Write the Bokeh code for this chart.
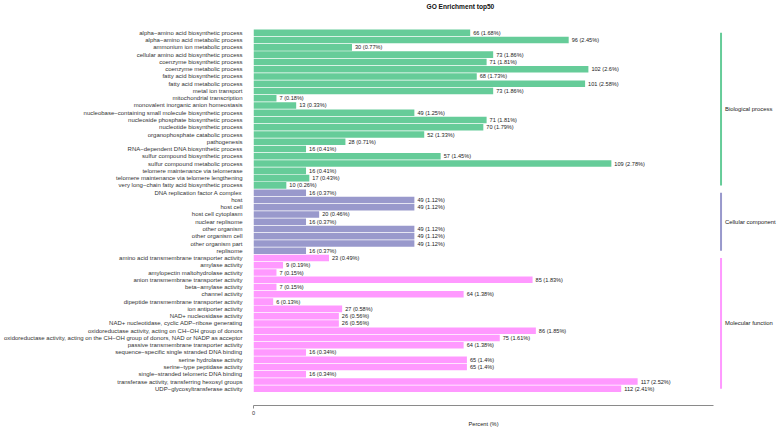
from bokeh.plotting import figure
from bokeh.models import Range1d, FixedTicker, ColumnDataSource, Title
from bokeh.core.properties import value
from bokeh.embed import file_html
from bokeh.resources import INLINE

terms = [
    "alpha−amino acid biosynthetic process",
    "alpha−amino acid metabolic process",
    "ammonium ion metabolic process",
    "cellular amino acid biosynthetic process",
    "coenzyme biosynthetic process",
    "coenzyme metabolic process",
    "fatty acid biosynthetic process",
    "fatty acid metabolic process",
    "metal ion transport",
    "mitochondrial transcription",
    "monovalent inorganic anion homeostasis",
    "nucleobase−containing small molecule biosynthetic process",
    "nucleoside phosphate biosynthetic process",
    "nucleotide biosynthetic process",
    "organophosphate catabolic process",
    "pathogenesis",
    "RNA−dependent DNA biosynthetic process",
    "sulfur compound biosynthetic process",
    "sulfur compound metabolic process",
    "telomere maintenance via telomerase",
    "telomere maintenance via telomere lengthening",
    "very long−chain fatty acid biosynthetic process",
    "DNA replication factor A complex",
    "host",
    "host cell",
    "host cell cytoplasm",
    "nuclear replisome",
    "other organism",
    "other organism cell",
    "other organism part",
    "replisome",
    "amino acid transmembrane transporter activity",
    "amylase activity",
    "amylopectin maltohydrolase activity",
    "anion transmembrane transporter activity",
    "beta−amylase activity",
    "channel activity",
    "dipeptide transmembrane transporter activity",
    "ion antiporter activity",
    "NAD+ nucleosidase activity",
    "NAD+ nucleotidase, cyclic ADP−ribose generating",
    "oxidoreductase activity, acting on CH−OH group of donors",
    "oxidoreductase activity, acting on the CH−OH group of donors, NAD or NADP as acceptor",
    "passive transmembrane transporter activity",
    "sequence−specific single stranded DNA binding",
    "serine hydrolase activity",
    "serine−type peptidase activity",
    "single−stranded telomeric DNA binding",
    "transferase activity, transferring hexosyl groups",
    "UDP−glycosyltransferase activity",
]

counts = [66, 96, 30, 73, 71, 102, 68, 101, 73, 7, 13, 49, 71, 70, 52, 28, 16, 57, 109, 16, 17, 10,
          16, 49, 49, 20, 16, 49, 49, 49, 16,
          23, 9, 7, 85, 7, 64, 6, 27, 26, 26, 86, 75, 64, 16, 65, 65, 16, 117, 112]

percents = [1.68, 2.45, 0.77, 1.86, 1.81, 2.6, 1.73, 2.58, 1.86, 0.18, 0.33, 1.25, 1.81, 1.79, 1.33, 0.71, 0.41, 1.45, 2.78, 0.41, 0.43, 0.26,
            0.37, 1.12, 1.12, 0.46, 0.37, 1.12, 1.12, 1.12, 0.37,
            0.49, 0.19, 0.15, 1.83, 0.15, 1.38, 0.13, 0.58, 0.56, 0.56, 1.85, 1.61, 1.38, 0.34, 1.4, 1.4, 0.34, 2.52, 2.41]

groups = ["Biological process", "Cellular component", "Molecular function"]
group_sizes = [22, 9, 19]
group_colors = ["#66CC99", "#9999CC", "#FF99FF"]

x_axis_ticks = [0]
x_axis_label = "Percent (%)"
title_text = "GO Enrichment top50"

FONT = "Liberation Sans"
n = len(terms)
ys = [n - 1 - i for i in range(n)]

colors = []
for g, s, c in zip(groups, group_sizes, group_colors):
    colors += [c] * s

labels = [f"{c} ({p:g}%)" for c, p in zip(counts, percents)]

src = ColumnDataSource(dict(y=ys, count=counts, color=colors, label=labels, term=terms))

AXIS_END = 140
XMAX = 159.6

p = figure(width=777, height=428, title=None,
           x_range=Range1d(0, XMAX), y_range=Range1d(-2.3, 51.8),
           output_backend="svg", toolbar_location=None,
           min_border_left=248, min_border_right=0, min_border_top=12, min_border_bottom=23)
p.xgrid.visible = False
p.ygrid.visible = False
p.outline_line_color = None
p.background_fill_color = "white"

p.hbar(y="y", left=0, right="count", height=0.9, fill_color="color", line_color=None, source=src)
p.text(x="count", y="y", text="label", x_offset=3, text_baseline="middle", text_align="left",
       text_font_size="5.6px", text_font=value(FONT), text_color="#222222", source=src)

# ontology strips
STRIP_X = 142.4
seg_y0, seg_y1, mid_y = [], [], []
start = 0
for s in group_sizes:
    y_top = ys[start]
    y_bot = ys[start + s - 1]
    seg_y0.append(y_top)
    seg_y1.append(y_bot)
    mid_y.append((y_top + y_bot) / 2)
    start += s
p.segment(x0=[STRIP_X] * 3, x1=[STRIP_X] * 3, y0=seg_y0, y1=seg_y1, line_color=group_colors, line_width=2)
p.text(x=[STRIP_X + 1.2] * 3, y=mid_y, text=groups, text_baseline="middle", text_align="left",
       text_font_size="5.9px", text_font=value(FONT), text_color="#222222")

# y axis
ya = p.yaxis[0]
ya.ticker = FixedTicker(ticks=ys)
ya.major_label_overrides = {y: t for y, t in zip(ys, terms)}
ya.axis_line_color = None
ya.major_tick_line_color = None
ya.minor_tick_line_color = None
ya.major_label_text_font_size = "6px"
ya.major_label_text_font = FONT
ya.major_label_text_color = "#333333"
ya.major_label_standoff = 5

# x axis
xa = p.xaxis[0]
xa.ticker = FixedTicker(ticks=x_axis_ticks)
xa.bounds = (0, AXIS_END)
xa.axis_line_color = "#8a8a8a"
xa.major_tick_line_color = "#8a8a8a"
xa.major_tick_out = 3
xa.major_tick_in = 0
xa.minor_tick_line_color = None
xa.major_label_text_font_size = "5.6px"
xa.major_label_text_font = FONT
xa.major_label_text_color = "#333333"
xa.major_label_standoff = 2

p.add_layout(Title(text=x_axis_label, align="left", offset=215, text_font_size="5.7px",
                   text_font=FONT, text_font_style="normal", text_color="#222222", standoff=2,
                   vertical_align="bottom"), "below")
p.add_layout(Title(text=title_text, align="left", offset=173, text_font_size="6.6px",
                   text_font=FONT, text_font_style="bold", text_color="#111111", standoff=2,
                   vertical_align="top"), "above")

open("out.html", "w").write(file_html(p, INLINE))
